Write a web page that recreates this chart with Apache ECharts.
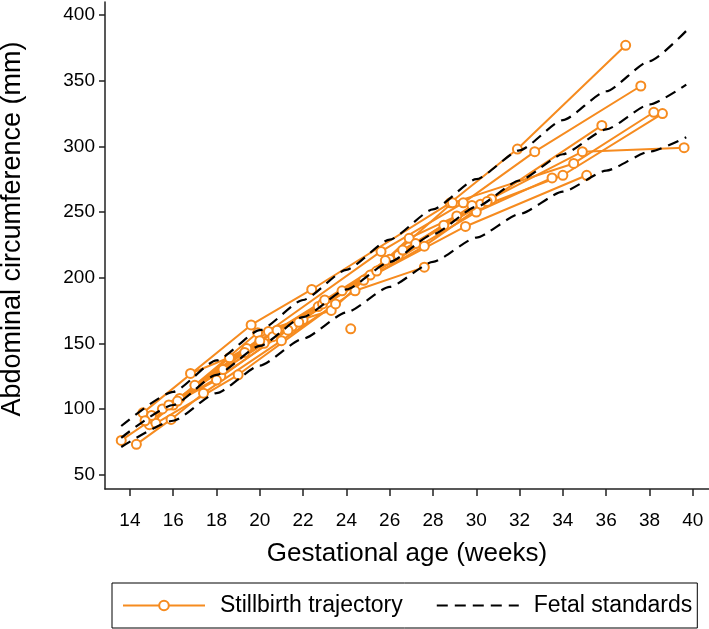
<!DOCTYPE html>
<html>
<head>
<meta charset="utf-8">
<script src="https://cdn.jsdelivr.net/npm/echarts@6/dist/echarts.min.js"></script>
<style>html,body{margin:0;padding:0;background:#fff}#chart{width:709px;height:629px}</style>
</head>
<body>
<div id="chart"></div>
<script>
// ---- Data ----
const xTicks = [14, 16, 18, 20, 22, 24, 26, 28, 30, 32, 34, 36, 38, 40];
const yTicks = [50, 100, 150, 200, 250, 300, 350, 400];

// Fetal standards (lower / median / upper centile curves)
const stdWeeks = [13.6, 16, 18, 20, 22, 24, 26, 28, 30, 32, 34, 36, 38, 39.7];
const stdUpper = [87, 113, 137, 160, 183, 206, 229, 252, 275, 297, 320, 342, 365, 388];
const stdMid   = [78, 103, 126, 148, 170, 191, 212, 233, 254, 274, 294, 313, 332, 347];
const stdLower = [71, 91, 112, 133, 153.5, 173.5, 193, 212, 230.5, 248.5, 265.5, 281.5, 296, 307];

// Stillbirth trajectories: [gestational age (weeks), abdominal circumference (mm)]
const traj01 = [[14.6, 97], [19.6, 164], [22.4, 191], [28.8, 257], [31.9, 298], [36.9, 377]];
const traj02 = [[13.6, 76], [16.0, 103], [20.4, 159], [25.6, 220], [29.4, 257], [32.7, 296], [37.6, 346]];
const traj03 = [[14.3, 73], [15.9, 92], [17.4, 112], [21.0, 152], [24.4, 190], [27.6, 208]];
const traj04 = [[14.9, 88], [18.6, 139], [22.7, 178], [27.6, 224], [30.7, 260], [35.8, 316]];
const traj05 = [[15.1, 92], [19.9, 158], [23.3, 175], [26.9, 230], [29.1, 247], [34.0, 278], [38.6, 325]];
const traj06 = [[16.8, 127], [20.2, 150], [25.1, 202], [28.9, 257], [34.5, 287], [38.2, 326]];
const traj07 = [[15.2, 89], [19.0, 126], [23.5, 180]];
const traj08 = [[15.5, 100], [18.2, 125], [22.0, 168], [26.0, 214], [30.2, 256], [34.9, 296], [39.6, 299]];
const traj09 = [[16.3, 108], [20.6, 155], [24.8, 198], [29.5, 239], [35.1, 278]];
const traj10 = [[15.0, 95], [18.0, 122], [21.5, 163], [25.4, 205], [30.0, 250], [33.5, 276]];
const traj11 = [[17.0, 118], [20.8, 160], [23.8, 190], [27.2, 226]];
const traj12 = [[15.8, 103], [19.4, 146], [22.9, 180], [26.4, 217], [29.8, 255]];
const traj13 = [[18.3, 130], [21.8, 166], [25.8, 213], [28.5, 240]];
const traj14 = [[14.7, 91], [16.2, 106], [19.3, 143], [21.3, 160]];
const traj15 = [[20.0, 152], [23.0, 183], [26.6, 221], [30.5, 258]];
const traj16 = [[24.2, 161]];

const trajectories = [traj01, traj02, traj03, traj04, traj05, traj06, traj07, traj08,
  traj09, traj10, traj11, traj12, traj13, traj14, traj15, traj16];

const ORANGE = '#f68b1f';
const FONT = "'Liberation Sans', Arial, Helvetica, sans-serif";

const series = [];
trajectories.forEach(t => {
  series.push({
    name: 'Stillbirth trajectory',
    type: 'line',
    data: t,
    symbol: 'emptyCircle',
    symbolSize: 9,
    showAllSymbol: true,
    lineStyle: { color: ORANGE, width: 2 },
    itemStyle: { color: ORANGE, borderColor: ORANGE, borderWidth: 2 },
    z: 2,
    animation: false
  });
});
[stdUpper, stdMid, stdLower].forEach(arr => {
  series.push({
    name: 'Fetal standards',
    type: 'line',
    data: stdWeeks.map((w, i) => [w, arr[i]]),
    showSymbol: false,
    symbol: 'none',
    smooth: 0.2,
    smoothMonotone: 'x',
    lineStyle: { color: '#000', width: 2.2, type: [11, 7] },
    itemStyle: { color: '#000' },
    z: 3,
    animation: false
  });
});

const chart = echarts.init(document.getElementById('chart'), null, { renderer: 'canvas' });
chart.setOption({
  animation: false,
  backgroundColor: '#fff',
  textStyle: { fontFamily: FONT },
  grid: { left: 105, right: 0, top: 2, bottom: 140, containLabel: false },
  xAxis: {
    type: 'value',
    min: 12.85,
    max: 40.75,
    name: 'Gestational age (weeks)',
    nameLocation: 'middle',
    nameGap: 52,
    nameTextStyle: { color: '#000', fontSize: 26, fontFamily: FONT },
    axisLine: { show: true, onZero: false, lineStyle: { color: '#222', width: 1.5 } },
    axisTick: { show: true, length: 7, lineStyle: { color: '#222', width: 1.5 }, customValues: xTicks },
    axisLabel: { color: '#000', fontSize: 19, margin: 22, fontFamily: FONT, customValues: xTicks },
    splitLine: { show: false }
  },
  yAxis: {
    type: 'value',
    min: 39,
    max: 410,
    axisLine: { show: true, onZero: false, lineStyle: { color: '#222', width: 1.5 } },
    axisTick: { show: true, length: 6, lineStyle: { color: '#222', width: 1.5 }, customValues: yTicks },
    axisLabel: { color: '#000', fontSize: 19, margin: 10, fontFamily: FONT, customValues: yTicks },
    splitLine: { show: false }
  },
  legend: {
    data: [
      { name: 'Stillbirth trajectory' },
      { name: 'Fetal standards', itemStyle: { color: 'rgba(0,0,0,0)', borderColor: 'rgba(0,0,0,0)', borderWidth: 0, opacity: 0 } }
    ],
    left: 112,
    top: 583,
    orient: 'horizontal',
    itemWidth: 82,
    itemHeight: 12,
    itemGap: 33,
    padding: [11, 5, 11, 10],
    borderColor: '#000',
    borderWidth: 1,
    borderRadius: 0,
    selectedMode: false,
    textStyle: { color: '#000', fontSize: 23, fontFamily: FONT, padding: [0, 0, 0, 10] }
  },
  graphic: [{
    type: 'text',
    x: 13,
    y: 229,
    rotation: Math.PI / 2,
    style: {
      text: 'Abdominal circumference (mm)',
      fontSize: 27,
      fontFamily: FONT,
      fill: '#000',
      align: 'center',
      verticalAlign: 'middle'
    }
  }],
  series: series
});
</script>
</body>
</html>
